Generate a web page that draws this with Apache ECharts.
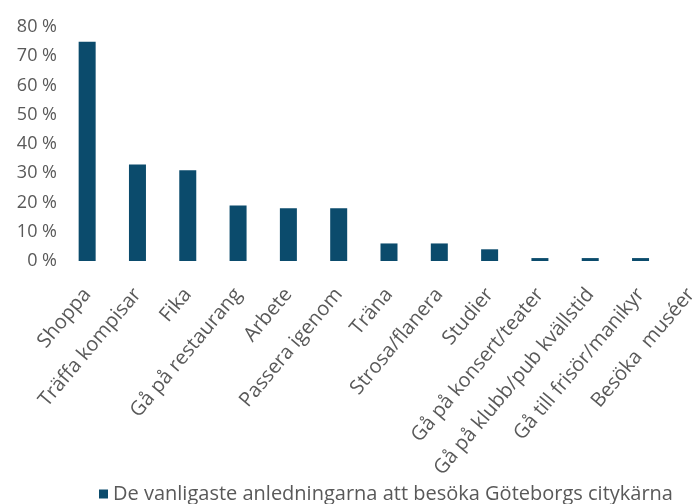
<!DOCTYPE html>
<html>
<head>
<meta charset="utf-8">
<script src="https://cdn.jsdelivr.net/npm/echarts@6/dist/echarts.min.js"></script>
<style>
  html, body { margin: 0; padding: 0; background: #fff; }
  #chart { width: 696px; height: 504px; }
</style>
</head>
<body>
<div id="chart"></div>
<script>
// kategorier och andelar (%)
const categories = ['Shoppa', 'Träffa kompisar', 'Fika', 'Gå på restaurang', 'Arbete', 'Passera igenom',
  'Träna', 'Strosa/flanera', 'Studier', 'Gå på konsert/teater', 'Gå på klubb/pub kvällstid',
  'Gå till frisör/manikyr', 'Besöka  muséer']
const values = [75, 33, 31, 19, 18, 18, 6, 6, 4, 1, 1, 1, 0]
const yTicks = [0, 10, 20, 30, 40, 50, 60, 70, 80]
const seriesName = 'De vanligaste anledningarna att besöka Göteborgs citykärna'

const textColor = '#595959'
const barColor = '#0b4b6c'
const fontFamily = '"Open Sans", sans-serif'

const chart = echarts.init(document.getElementById('chart'))
chart.setOption({
  animation: false,
  textStyle: { fontFamily: fontFamily },
  grid: {
    left: 62,
    right: -20,
    top: 27,
    bottom: 243,
    containLabel: false,
    outerBoundsMode: 'none'
  },
  legend: {
    show: true,
    left: 94,
    top: 479,
    icon: 'rect',
    itemWidth: 9,
    itemHeight: 9,
    itemGap: 6,
    textStyle: { color: textColor, fontSize: 20, fontFamily: fontFamily },
    data: [seriesName]
  },
  xAxis: {
    type: 'category',
    data: categories,
    axisLine: { show: false },
    axisTick: { show: false },
    axisLabel: {
      interval: 0,
      rotate: 50,
      margin: 30,
      color: textColor,
      fontSize: 20,
      fontFamily: fontFamily
    }
  },
  yAxis: {
    type: 'value',
    min: yTicks[0],
    max: yTicks[yTicks.length - 1],
    interval: 10,
    axisLine: { show: false },
    axisTick: { show: false },
    splitLine: { show: false },
    axisLabel: {
      margin: 5,
      color: textColor,
      fontSize: 18,
      fontFamily: fontFamily,
      formatter: '{value} %'
    }
  },
  series: [{
    name: seriesName,
    type: 'bar',
    data: values,
    barWidth: 17,
    itemStyle: { color: barColor },
    emphasis: { disabled: true }
  }]
})
</script>
</body>
</html>
